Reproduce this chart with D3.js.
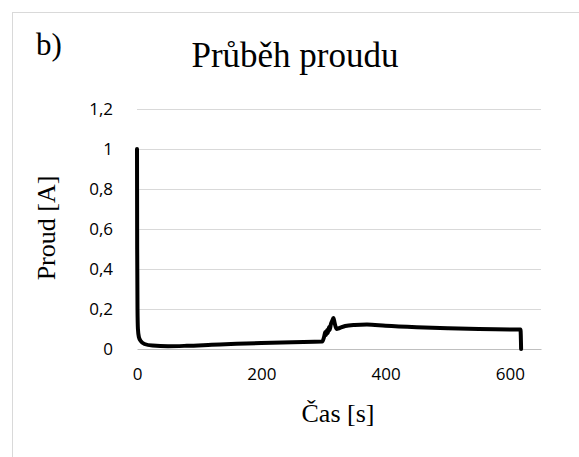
<!DOCTYPE html>
<html>
<head>
<meta charset="utf-8">
<script src="https://cdn.jsdelivr.net/npm/d3@7"></script>
<style>
  body { margin: 0; background: #fff; }
  svg { display: block; }
</style>
</head>
<body>
<div id="chart"></div>
<script>
// data
const timeS = [0, 0.3, 0.8, 1.5, 3, 6, 12, 25, 50, 80, 120, 160, 200, 250, 298,
  301, 303, 304, 306, 307, 309, 310, 312, 314, 316, 318, 321, 326, 335, 350, 370,
  400, 450, 500, 550, 600, 617, 618];
const currentA = [1.0, 0.5, 0.2, 0.1, 0.06, 0.04, 0.025, 0.017, 0.014, 0.016, 0.021, 0.026, 0.03, 0.034, 0.037,
  0.06, 0.085, 0.07, 0.095, 0.08, 0.11, 0.095, 0.125, 0.14, 0.155, 0.13, 0.1, 0.105, 0.115, 0.12, 0.122,
  0.116, 0.109, 0.104, 0.1, 0.098, 0.097, 0];
const xTicks = [0, 200, 400, 600];
const yTicks = [0, 0.2, 0.4, 0.6, 0.8, 1, 1.2];

const W = 579, H = 457;
const plot = { left: 137, right: 541, top: 109, bottom: 349 };

const svg = d3.select("#chart").append("svg")
  .attr("width", W).attr("height", H);

// chart area border
svg.append("rect")
  .attr("x", 12.5).attr("y", 12.5)
  .attr("width", 620).attr("height", 500)
  .attr("fill", "#fff").attr("stroke", "#d9d9d9");

const x = d3.scaleLinear().domain([0, 650]).range([plot.left, plot.right]);
const y = d3.scaleLinear().domain([0, 1.2]).range([plot.bottom, plot.top]);

const fmt = d => String(d).replace(".", ",");

// gridlines
svg.append("g")
  .selectAll("line")
  .data(yTicks.filter(d => d > 0))
  .enter().append("line")
  .attr("x1", plot.left).attr("x2", plot.right)
  .attr("y1", d => Math.round(y(d)) + 0.5).attr("y2", d => Math.round(y(d)) + 0.5)
  .attr("stroke", "#d9d9d9").attr("stroke-width", 1);

// y axis
const yAxis = svg.append("g")
  .attr("transform", `translate(${plot.left - 21},0)`)
  .call(d3.axisLeft(y).tickValues(yTicks).tickFormat(fmt).tickSize(0));
yAxis.select(".domain").remove();
yAxis.selectAll("text")
  .attr("font-family", "'Open Sans', sans-serif").attr("font-size", 17)
  .attr("fill", "#000");

// x axis
const xAxis = svg.append("g")
  .attr("transform", `translate(0,${plot.bottom})`)
  .call(d3.axisBottom(x).tickValues(xTicks).tickSize(0));
xAxis.select(".domain").attr("stroke", "#bfbfbf");
xAxis.selectAll("text")
  .attr("dy", "1.65em")
  .attr("font-family", "'Open Sans', sans-serif").attr("font-size", 17)
  .attr("fill", "#000");

// series
const pts = timeS.map((t, i) => [t, currentA[i]]);
svg.append("path")
  .datum(pts)
  .attr("fill", "none")
  .attr("stroke", "#000")
  .attr("stroke-width", 4)
  .attr("stroke-linejoin", "round")
  .attr("stroke-linecap", "round")
  .attr("d", d3.line().x(d => x(d[0])).y(d => y(d[1])).curve(d3.curveMonotoneX));

// texts
const serif = "'Liberation Serif', 'Times New Roman', serif";
svg.append("text")
  .attr("x", 36).attr("y", 55)
  .attr("font-family", serif).attr("font-size", 31)
  .text("b)");

svg.append("text")
  .attr("x", 295).attr("y", 67)
  .attr("text-anchor", "middle")
  .attr("font-family", serif).attr("font-size", 35)
  .text("Průběh proudu");

svg.append("text")
  .attr("transform", "translate(55,228) rotate(-90)")
  .attr("text-anchor", "middle")
  .attr("font-family", serif).attr("font-size", 26)
  .text("Proud [A]");

svg.append("text")
  .attr("x", 338).attr("y", 422)
  .attr("text-anchor", "middle")
  .attr("font-family", serif).attr("font-size", 26)
  .text("Čas [s]");
</script>
</body>
</html>
